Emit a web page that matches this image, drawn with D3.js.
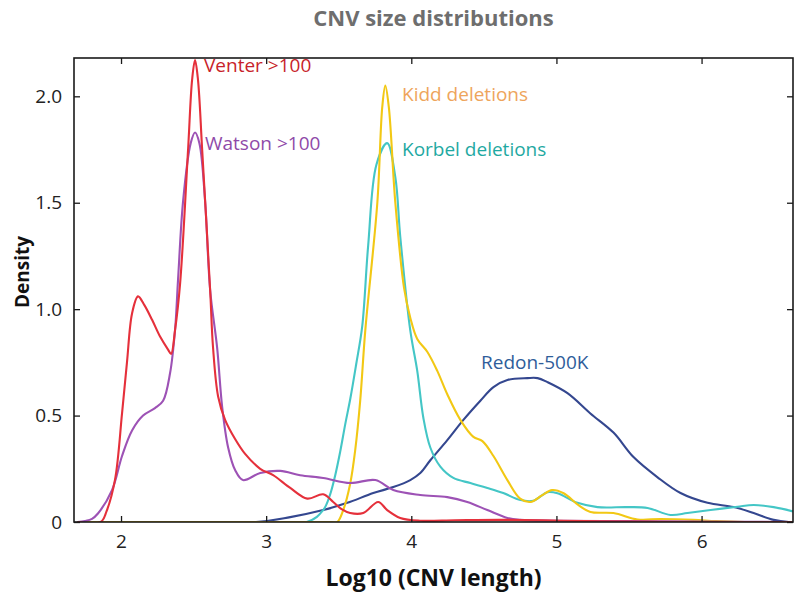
<!DOCTYPE html>
<html>
<head>
<meta charset="utf-8">
<script src="https://cdn.jsdelivr.net/npm/d3@7"></script>
<style>
  html, body { margin: 0; padding: 0; background: #ffffff; }
  svg { display: block; font-family: "Open Sans", "Noto Sans", sans-serif; }
</style>
</head>
<body>
<svg id="chart" width="800" height="596"></svg>
<script>
// ---------------- data ----------------
const seriesNames = ["Venter >100", "Watson >100", "Kidd deletions", "Korbel deletions", "Redon-500K"];

const venterX = [1.70, 1.86, 1.90, 1.959, 2.007, 2.041, 2.076, 2.117, 2.16, 2.214, 2.27, 2.324, 2.345, 2.372, 2.407, 2.462, 2.49, 2.51, 2.53, 2.559, 2.614, 2.634, 2.669, 2.717, 2.786, 2.855, 2.959, 3.048, 3.166, 3.283, 3.393, 3.462, 3.52, 3.579, 3.669, 3.772, 3.834, 3.924, 4.06, 4.3, 4.6, 4.9, 5.2, 5.5, 6.0, 6.63];
const venterY = [0, 0, 0.05, 0.20, 0.51, 0.75, 0.98, 1.06, 1.02, 0.95, 0.87, 0.81, 0.79, 0.90, 1.12, 1.75, 2.08, 2.17, 2.08, 1.75, 1.09, 0.82, 0.59, 0.48, 0.39, 0.32, 0.25, 0.22, 0.16, 0.11, 0.13, 0.094, 0.06, 0.042, 0.042, 0.094, 0.056, 0.019, 0.006, 0.008, 0.01, 0.008, 0.004, 0.002, 0, 0];

const watsonX = [1.70, 1.752, 1.80, 1.841, 1.938, 2.007, 2.076, 2.152, 2.234, 2.290, 2.338, 2.372, 2.393, 2.428, 2.48, 2.51, 2.54, 2.579, 2.614, 2.662, 2.697, 2.738, 2.786, 2.84, 2.959, 3.097, 3.234, 3.393, 3.579, 3.752, 3.876, 4.062, 4.248, 4.386, 4.524, 4.662, 4.752, 5.0, 5.5, 6.0, 6.63];
const watsonY = [0, 0.005, 0.015, 0.04, 0.15, 0.31, 0.43, 0.50, 0.535, 0.57, 0.70, 0.90, 1.14, 1.51, 1.78, 1.83, 1.78, 1.51, 1.09, 0.82, 0.54, 0.35, 0.244, 0.197, 0.23, 0.24, 0.22, 0.207, 0.183, 0.197, 0.15, 0.127, 0.117, 0.094, 0.056, 0.019, 0.01, 0.006, 0.004, 0.002, 0];

const kiddX = [1.70, 3.45, 3.49, 3.531, 3.579, 3.614, 3.648, 3.683, 3.766, 3.80, 3.821, 3.845, 3.890, 3.95, 3.993, 4.041, 4.110, 4.179, 4.248, 4.338, 4.428, 4.49, 4.566, 4.662, 4.75, 4.821, 4.90, 4.97, 5.05, 5.15, 5.234, 5.393, 5.559, 5.717, 5.945, 6.1, 6.3, 6.63];
const kiddY = [0, 0, 0, 0.056, 0.18, 0.34, 0.57, 0.90, 1.50, 1.95, 2.05, 1.95, 1.50, 1.10, 0.96, 0.86, 0.80, 0.71, 0.60, 0.48, 0.40, 0.38, 0.31, 0.197, 0.11, 0.094, 0.125, 0.15, 0.135, 0.08, 0.047, 0.042, 0.012, 0.014, 0.01, 0.004, 0, 0];

const korbelX = [1.70, 3.28, 3.393, 3.441, 3.476, 3.510, 3.545, 3.580, 3.620, 3.662, 3.703, 3.76, 3.834, 3.89, 3.924, 3.993, 4.041, 4.083, 4.131, 4.200, 4.290, 4.407, 4.524, 4.634, 4.752, 4.841, 4.938, 5.007, 5.145, 5.283, 5.490, 5.628, 5.786, 5.903, 6.062, 6.248, 6.359, 6.497, 6.63];
const korbelY = [0, 0, 0.056, 0.13, 0.22, 0.33, 0.46, 0.58, 0.74, 0.92, 1.30, 1.68, 1.78, 1.62, 1.34, 0.90, 0.71, 0.49, 0.35, 0.26, 0.207, 0.183, 0.16, 0.136, 0.103, 0.10, 0.14, 0.135, 0.09, 0.07, 0.07, 0.066, 0.033, 0.042, 0.056, 0.072, 0.08, 0.07, 0.05];

const redonX = [1.70, 2.93, 3.166, 3.393, 3.559, 3.738, 3.876, 3.993, 4.062, 4.131, 4.248, 4.359, 4.476, 4.566, 4.662, 4.80, 4.87, 4.938, 5.076, 5.234, 5.393, 5.531, 5.697, 5.855, 6.041, 6.221, 6.359, 6.497, 6.60, 6.63];
const redonY = [0, 0, 0.023, 0.056, 0.09, 0.136, 0.164, 0.197, 0.23, 0.29, 0.385, 0.48, 0.57, 0.634, 0.667, 0.676, 0.676, 0.657, 0.605, 0.51, 0.42, 0.305, 0.21, 0.136, 0.09, 0.07, 0.042, 0.01, 0, 0];

const xTicks = [2, 3, 4, 5, 6];
const yTicks = [0, 0.5, 1.0, 1.5, 2.0];
const yTickLabels = ["0", "0.5", "1.0", "1.5", "2.0"];

// ---------------- styling / layout ----------------
const W = 800, H = 596;
const margin = { left: 74, right: 7, top: 58, bottom: 74 };
const lineColors = ["#e5303b", "#9d52b5", "#f2c814", "#44c6c6", "#34478f"];
const textColors = ["#c81f2b", "#8f4aa9", "#eea55c", "#1fa9a2", "#2f5d9a"];
// label placement: [left px, baseline px]
const labelPos = [[204, 72], [205, 150], [402, 101], [402, 156], [481, 369]];

const seriesX = [venterX, watsonX, kiddX, korbelX, redonX];
const seriesY = [venterY, watsonY, kiddY, korbelY, redonY];
const series = seriesNames.map((name, i) => ({
  name,
  points: seriesX[i].map((x, j) => ({ x, y: seriesY[i][j] })),
  color: lineColors[i],
  textColor: textColors[i],
  label: labelPos[i]
}));

const svg = d3.select("#chart");
const x = d3.scaleLinear().domain([1.676, 6.63]).range([margin.left, W - margin.right]);
const y = d3.scaleLinear().domain([0, 2.18]).range([H - margin.bottom, margin.top]);

svg.append("defs").append("clipPath").attr("id", "plotclip")
  .append("rect")
  .attr("x", margin.left).attr("y", margin.top - 2)
  .attr("width", W - margin.left - margin.right)
  .attr("height", H - margin.top - margin.bottom + 2);

// curves
const line = d3.line().x(d => x(d.x)).y(d => y(d.y)).curve(d3.curveCatmullRom.alpha(0.5));
const gLines = svg.append("g").attr("clip-path", "url(#plotclip)");
[4, 3, 2, 1, 0].forEach(i => {
  gLines.append("path")
    .datum(series[i].points)
    .attr("fill", "none")
    .attr("stroke", series[i].color)
    .attr("stroke-width", 2.1)
    .attr("stroke-linejoin", "round")
    .attr("d", line);
});

// frame with inward ticks (MATLAB style)
const tickLen = 6;
const axisColor = "#1a1a1a";
const fontTick = 19;

const xAxisB = d3.axisBottom(x).tickValues(xTicks).tickFormat(d3.format("d")).tickSizeInner(-tickLen).tickSizeOuter(0).tickPadding(13);
const xAxisT = d3.axisTop(x).tickValues(xTicks).tickFormat("").tickSizeInner(-tickLen).tickSizeOuter(0);
const yAxisL = d3.axisLeft(y).tickValues(yTicks).tickFormat((d, i) => yTickLabels[i]).tickSizeInner(-tickLen).tickSizeOuter(0).tickPadding(12);
const yAxisR = d3.axisRight(y).tickValues(yTicks).tickFormat("").tickSizeInner(-tickLen).tickSizeOuter(0);

function styleAxis(g) {
  g.select(".domain").remove();
  g.selectAll(".tick line").attr("stroke", axisColor).attr("stroke-width", 1.3);
  g.selectAll(".tick text").attr("fill", "#222").style("font-size", fontTick + "px")
    .style("font-family", "'Open Sans', 'Noto Sans', sans-serif");
}

svg.append("g").attr("transform", `translate(0,${H - margin.bottom})`).call(xAxisB).call(styleAxis);
svg.append("g").attr("transform", `translate(0,${margin.top})`).call(xAxisT).call(styleAxis);
svg.append("g").attr("transform", `translate(${margin.left},0)`).call(yAxisL).call(styleAxis);
svg.append("g").attr("transform", `translate(${W - margin.right},0)`).call(yAxisR).call(styleAxis);

svg.append("rect")
  .attr("x", margin.left).attr("y", margin.top)
  .attr("width", W - margin.left - margin.right)
  .attr("height", H - margin.top - margin.bottom)
  .attr("fill", "none").attr("stroke", axisColor).attr("stroke-width", 1.6);

// series labels
series.forEach(s => {
  svg.append("text")
    .attr("x", s.label[0]).attr("y", s.label[1])
    .attr("fill", s.textColor)
    .style("font-size", "19px")
    .text(s.name);
});

// title and axis labels
svg.append("text")
  .attr("x", (margin.left + W - margin.right) / 2).attr("y", 26)
  .attr("text-anchor", "middle")
  .attr("fill", "#6e6e6e")
  .style("font-size", "22px").style("font-weight", "bold")
  .text("CNV size distributions");

svg.append("text")
  .attr("x", (margin.left + W - margin.right) / 2).attr("y", 586)
  .attr("text-anchor", "middle")
  .attr("fill", "#111")
  .style("font-size", "23px").style("font-weight", "bold")
  .text("Log10 (CNV length)");

svg.append("text")
  .attr("transform", `translate(29,272) rotate(-90)`)
  .attr("text-anchor", "middle")
  .attr("fill", "#111")
  .style("font-size", "19px").style("font-weight", "bold")
  .text("Density");
</script>
</body>
</html>
